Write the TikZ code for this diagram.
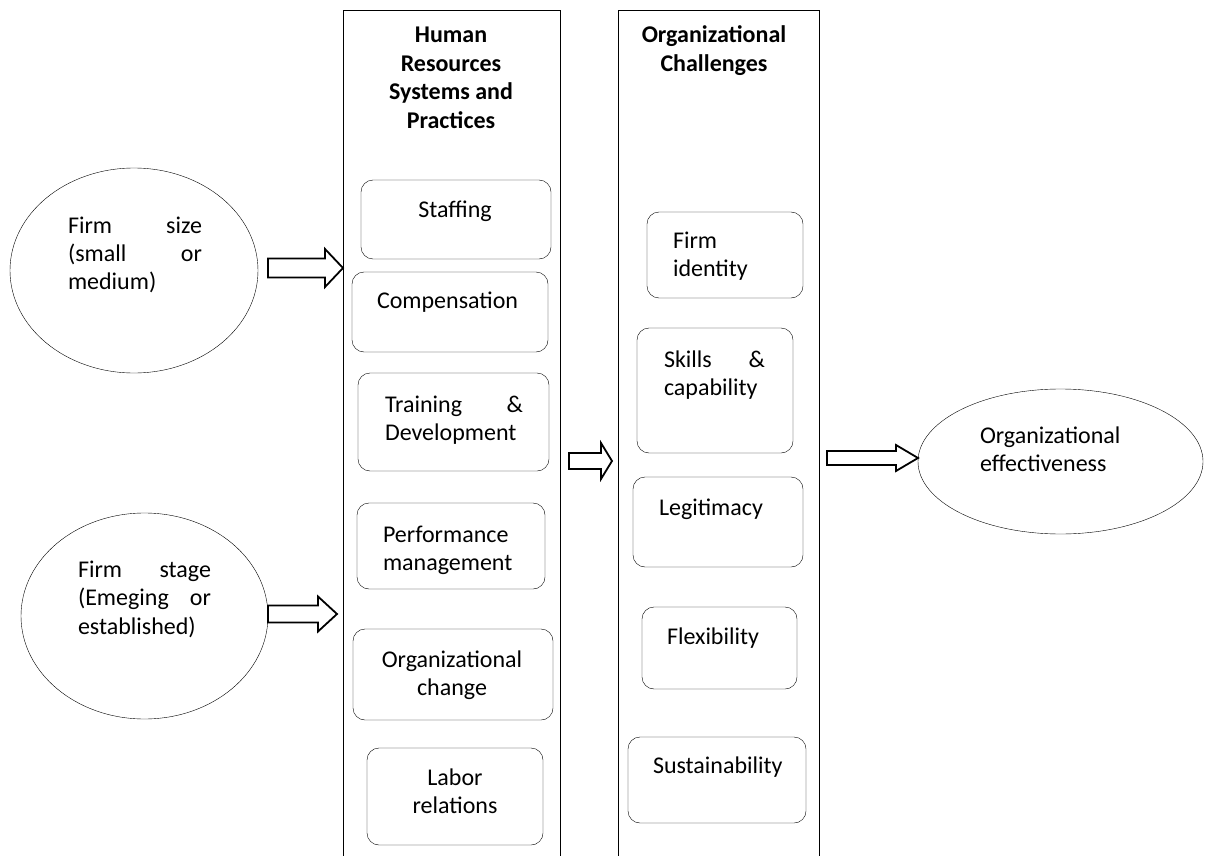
\documentclass[tikz,border=0pt]{standalone}
\usepackage{fontspec}
\setmainfont{Carlito}
\usetikzlibrary{shapes.geometric}
\newcommand{\hollowarr}[7]{%
  % #1 name, #2 tail x, #3 tip x, #4 y, #5 shaft half, #6 head half, #7 head start x
  \coordinate (#1-tail) at (#2,#4);
  \coordinate (#1-tip) at (#3,#4);
  \draw[arrline] (#2,{#4-#5}) -- (#7,{#4-#5}) -- (#7,{#4-#6}) -- (#1-tip)
     -- (#7,{#4+#6}) -- (#7,{#4+#5}) -- (#2,{#4+#5}) -- cycle;
}
\tikzset{
  x=1pt, y=-1pt,
  line width=2pt,
  arrline/.style={line width=1.8pt, line join=miter},
  rbox/.style={draw, rounded corners=12pt, inner sep=0pt},
  colbox/.style={draw, rectangle, inner sep=0pt, minimum height=880pt},
  oval/.style={draw, ellipse, inner sep=0pt},
  txt/.style={inner sep=0pt, outer sep=0pt, font=\fontsize{24}{28.5}\selectfont},
  ttl/.style={inner sep=0pt, outer sep=0pt, font=\fontsize{24}{28.5}\selectfont\bfseries},
}
\begin{document}
\begin{tikzpicture}
\useasboundingbox[fill=white] (0,0) rectangle (1205,856);
\clip (0,0) rectangle (1205,856);

% columns
\node[colbox, minimum width=217pt] (hrcol) at (451.5,450) {};
\node[colbox, minimum width=201pt] (occol) at (718.5,450) {};

% titles
\node[ttl, anchor=base] (hrtitle) at (451,43) {\parbox[t]{200pt}{\centering Human\hspace*{26pt}\\Resources\\Systems and\\Practices}};
\node[ttl, anchor=base] (octitle) at (714,43) {\parbox[t]{190pt}{\centering Organizational\\Challenges}};

% ellipses
\node[oval, minimum width=248pt, minimum height=205pt] (e1) at (134,270.5) {};
\node[oval, minimum width=247pt, minimum height=206pt] (e2) at (144.5,616) {};
\node[oval, minimum width=285pt, minimum height=145pt] (e3) at (1060.5,461.5) {};

\node[txt, anchor=base west] (e1t) at (68,233) {\parbox[t]{134pt}{\raggedright Firm\hfill size\\(small\hfill or\\medium)}};
\node[txt, anchor=base west] (e2t) at (78,577) {\parbox[t]{133pt}{\raggedright Firm\hfill stage\\(Emeging\hfill or\\established)}};
\node[txt, anchor=base west] (e3t) at (980,443) {\parbox[t]{200pt}{\raggedright Organizational\\effectiveness}};

% HR boxes
\node[rbox, minimum width=190pt, minimum height=79pt] (staff) at (456,219.5) {};
\node[rbox, minimum width=196pt, minimum height=80pt] (comp) at (450,312) {};
\node[rbox, minimum width=191pt, minimum height=98pt] (train) at (453.5,422) {};
\node[rbox, minimum width=188pt, minimum height=86pt] (perf) at (451,546) {};
\node[rbox, minimum width=200pt, minimum height=91pt] (orgch) at (453,674.5) {};
\node[rbox, minimum width=176pt, minimum height=97pt] (labor) at (455,796.5) {};

\node[txt, anchor=base] (stafft) at (455,217) {Staffing};
\node[txt, anchor=base west] (compt) at (377,308) {Compensation};
\node[txt, anchor=base west] (traint) at (385,412) {\parbox[t]{138pt}{\raggedright Training\hfill \&\\Development}};
\node[txt, anchor=base west] (perft) at (383,542) {\parbox[t]{160pt}{\raggedright Performance\\management}};
\node[txt, anchor=base] (orgcht) at (452,667) {\parbox[t]{180pt}{\centering Organizational\\change}};
\node[txt, anchor=base] (labort) at (455,785) {\parbox[t]{160pt}{\centering Labor\\relations}};

% OC boxes
\node[rbox, minimum width=156pt, minimum height=86pt] (ident) at (725,255) {};
\node[rbox, minimum width=156pt, minimum height=125pt] (skills) at (715,390.5) {};
\node[rbox, minimum width=170pt, minimum height=90pt] (legit) at (718,522) {};
\node[rbox, minimum width=155pt, minimum height=82pt] (flex) at (719.5,648) {};
\node[rbox, minimum width=178pt, minimum height=86pt] (sust) at (717,780) {};

\node[txt, anchor=base west] (identt) at (673,248) {\parbox[t]{120pt}{\raggedright Firm\\identity}};
\node[txt, anchor=base west] (skillst) at (664,367) {\parbox[t]{101pt}{\raggedright Skills\hfill \&\\capability}};
\node[txt, anchor=base west] (legitt) at (659,515) {Legitimacy};
\node[txt, anchor=base west] (flext) at (667,644) {Flexibility};
\node[txt, anchor=base west] (sustt) at (653,773) {Sustainability};

% block arrows
\hollowarr{a1}{268}{343}{268}{9.5}{19}{325}
\hollowarr{a2}{268}{337}{614}{8.5}{17.5}{318}
\hollowarr{a3}{569}{612}{461}{8}{18}{601}
\hollowarr{a4}{827}{918}{458}{7}{13}{896}
\end{tikzpicture}
\end{document}
